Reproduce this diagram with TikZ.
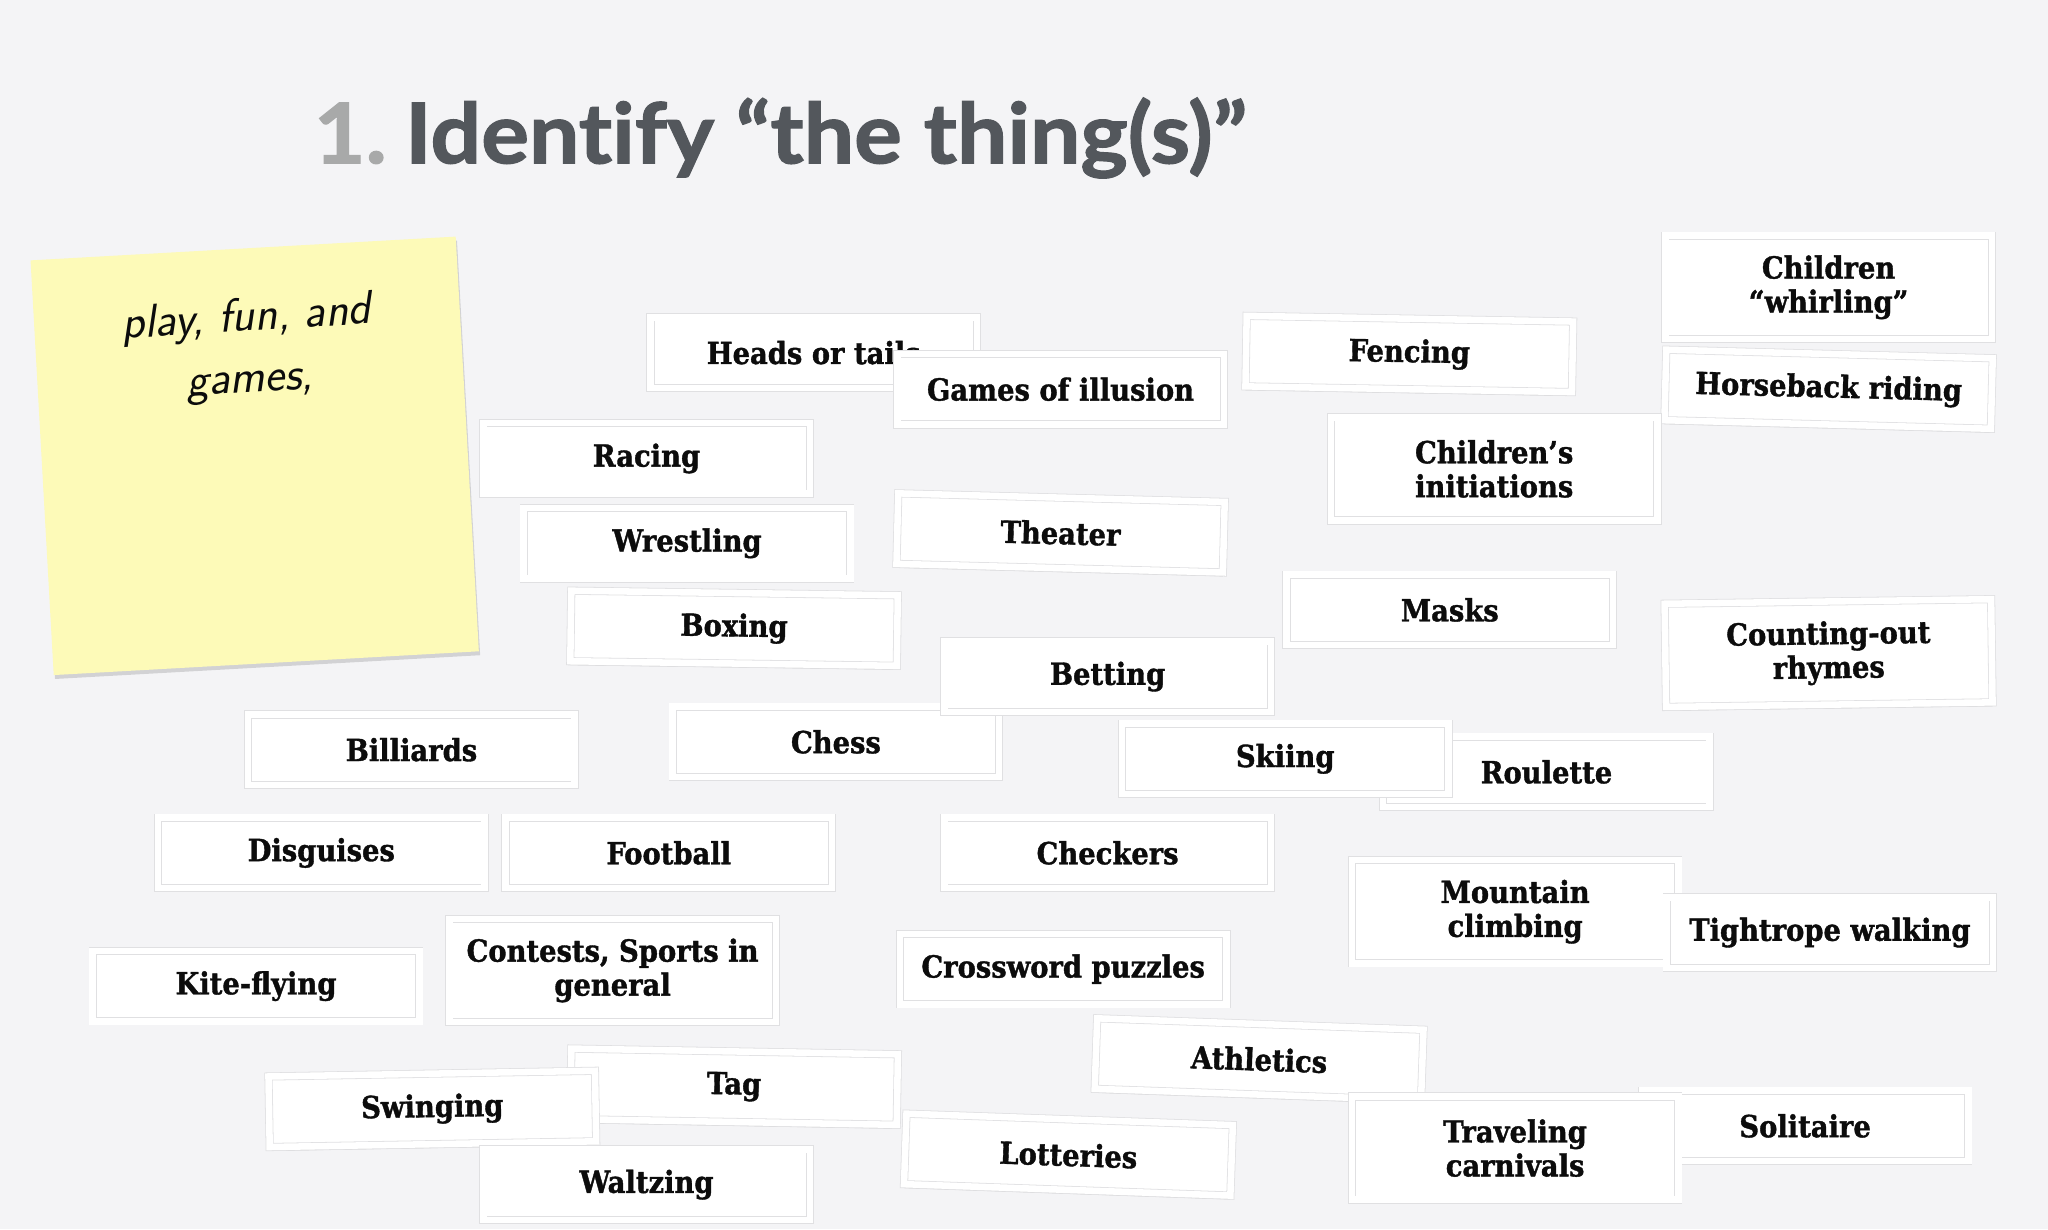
\documentclass[tikz,border=0pt]{standalone}
\usepackage{fontspec}
\setmainfont{DejaVu Serif Condensed}[BoldFeatures={FakeBold=1.2}]
\newfontfamily\titlefont{Lato}[Ligatures=NoCommon, FakeStretch=1.07, BoldFeatures={FakeBold=1.5}]
\usetikzlibrary{shadows}

\definecolor{bgcol}{RGB}{244,244,246}
\definecolor{notecol}{RGB}{253,250,184}
\definecolor{titlecol}{RGB}{83,87,92}
\definecolor{numcol}{RGB}{168,169,169}
\definecolor{edgecol}{RGB}{224,224,226}
\definecolor{inkcol}{RGB}{12,12,12}

\tikzset{
  card/.style={fill=white, draw=edgecol, line width=0.6pt, double=white, double distance=5pt,
    minimum width=250pt, minimum height=54pt, inner sep=0pt, align=center, text=inkcol,
    font=\bfseries\fontsize{23.3}{26}\selectfont,
    drop shadow={shadow xshift=0pt, shadow yshift=-3pt, opacity=0.22, fill=black!70}},
  cardtwo/.style={card, minimum height=79pt},
  sticky/.style={fill=notecol, minimum width=326pt, minimum height=318pt, inner sep=0pt,
    drop shadow={shadow xshift=1pt, shadow yshift=-3pt, opacity=0.2, fill=black!70}},
  hand/.style={align=center, text=inkcol, font=\sffamily\itshape\fontsize{36}{47}\selectfont}
}

\begin{document}
\begin{tikzpicture}[x=1pt, y=-1pt]
  % background
  \useasboundingbox (0,0) rectangle (1568,941);
  \fill[bgcol] (0,0) rectangle (1568,941);

  % title
  \node[anchor=base west, inner sep=0pt, text=numcol, font=\titlefont\bfseries\fontsize{64}{70}\selectfont] (num) at (240,125) {1.};
  \node[anchor=base west, inner sep=0pt, text=titlecol, font=\titlefont\bfseries\fontsize{64}{70}\selectfont] (title) at (310,125) {Identify “the thing(s)”};

  % sticky note
  \node[sticky, rotate=3.2] (note) at (195,349) {};
  \node[hand, rotate=3.5] (notetext) at (190,268) {play, fun, and\\games,};

  % cards, back to front
  \node[card] (heads) at (623,270) {Heads or tails};
  \node[card] (illusion) at (812,298) {Games of illusion};
  \node[card, rotate=-1] (fencing) at (1079,271) {Fencing};
  \node[card, rotate=-1.5] (horse) at (1400,298) {Horseback riding};
  \node[cardtwo] (whirl) at (1400,220) {Children\\“whirling”};
  \node[card] (racing) at (495,351) {Racing};
  \node[cardtwo] (initiations) at (1144,359) {Children’s\\initiations};
  \node[card] (wrestling) at (526,416) {Wrestling};
  \node[card, rotate=-1.5] (theater) at (812,408) {Theater};
  \node[card, rotate=-0.8] (boxing) at (562,481) {Boxing};
  \node[card] (masks) at (1110,467) {Masks};
  \node[cardtwo, rotate=0.8] (counting) at (1400,500) {Counting-out\\rhymes};
  \node[card] (chess) at (640,568) {Chess};
  \node[card] (betting) at (848,518) {Betting};
  \node[card] (billiards) at (315,574) {Billiards};
  \node[card] (roulette) at (1184,591) {Roulette};
  \node[card] (skiing) at (984,581) {Skiing};
  \node[card] (disguises) at (246,653) {Disguises};
  \node[card] (football) at (512,653) {Football};
  \node[card] (checkers) at (848,653) {Checkers};
  \node[cardtwo] (mountain) at (1160,698) {Mountain\\climbing};
  \node[card] (tightrope) at (1401,714) {Tightrope walking};
  \node[card] (kite) at (196,755) {Kite-flying};
  \node[cardtwo] (contests) at (469,743) {Contests, Sports in\\general};
  \node[card] (crossword) at (814,742) {Crossword puzzles};
  \node[card, rotate=-2] (athletics) at (964,811) {Athletics};
  \node[card, rotate=-1] (tag) at (562,832) {Tag};
  \node[card, rotate=1] (swinging) at (331,849) {Swinging};
  \node[card] (waltzing) at (495,907) {Waltzing};
  \node[card, rotate=-2] (lotteries) at (818,884) {Lotteries};
  \node[card] (solitaire) at (1382,862) {Solitaire};
  \node[cardtwo] (traveling) at (1160,879) {Traveling\\carnivals};
\end{tikzpicture}
\end{document}
